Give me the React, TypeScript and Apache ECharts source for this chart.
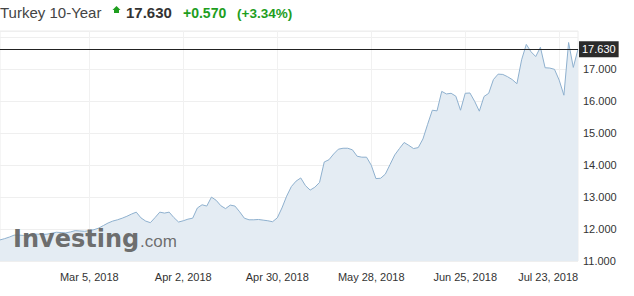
import React, { useEffect, useRef } from "react";
import * as echarts from "echarts";

const startDate = "2018-02-06";
const pointCount = 124;
const labelDates = ["Mar 5, 2018", "Apr 2, 2018", "Apr 30, 2018", "May 28, 2018", "Jun 25, 2018", "Jul 23, 2018"];
const yields = [
  11.66, 11.70, 11.75, 11.81, 11.81, 11.80, 11.82, 11.84, 11.84, 11.83,
  11.84, 11.87, 11.90, 11.89, 11.88, 11.91, 11.95, 11.94, 11.93, 11.95,
  11.98, 12.03, 12.11, 12.19, 12.25, 12.29, 12.34, 12.40, 12.47, 12.53,
  12.35, 12.25, 12.20, 12.36, 12.53, 12.50, 12.53, 12.36, 12.22, 12.26,
  12.31, 12.34, 12.66, 12.76, 12.72, 13.00, 12.90, 12.73, 12.64, 12.75,
  12.72, 12.54, 12.34, 12.29, 12.29, 12.30, 12.28, 12.26, 12.23, 12.35,
  12.66, 13.03, 13.33, 13.50, 13.60, 13.36, 13.22, 13.31, 13.46, 14.10,
  14.17, 14.35, 14.50, 14.53, 14.53, 14.48, 14.28, 14.25, 14.25, 14.00,
  13.58, 13.59, 13.72, 14.02, 14.32, 14.52, 14.71, 14.62, 14.52, 14.55,
  14.82, 15.28, 15.72, 15.70, 16.31, 16.23, 16.25, 16.16, 15.72, 16.25,
  16.26, 16.00, 15.69, 16.15, 16.25, 16.68, 16.85, 16.84, 16.77, 16.68,
  16.55, 17.30, 17.78, 17.55, 17.40, 17.69, 17.05, 17.04, 17.00, 16.66,
  16.19, 17.84, 17.06, 17.63,
];
const lastPrice = 17.63;
const yTicks = { min: 11, max: 18.2, step: 1 };

const MONTHS = ["Jan", "Feb", "Mar", "Apr", "May", "Jun", "Jul", "Aug", "Sep", "Oct", "Nov", "Dec"];

function buildDates(): string[] {
  const out: string[] = [];
  const d = new Date(startDate + "T12:00:00Z");
  while (out.length < pointCount) {
    const wd = d.getUTCDay();
    if (wd !== 0 && wd !== 6) {
      out.push(`${MONTHS[d.getUTCMonth()]} ${d.getUTCDate()}, ${d.getUTCFullYear()}`);
    }
    d.setUTCDate(d.getUTCDate() + 1);
  }
  return out;
}

const GREEN = "#1e9e1e";
const FONT = "Arial, 'Liberation Sans', sans-serif";

export default function App() {
  const ref = useRef<HTMLDivElement>(null);
  useEffect(() => {
    if (!ref.current) return;
    const chart = echarts.init(ref.current, undefined, { renderer: "svg" });
    const dates = buildDates();
    const showIdx = (i: number) => labelDates.includes(dates[i]);
    const lastLabel = labelDates[labelDates.length - 1];
    chart.setOption({
      animation: false,
      backgroundColor: "#ffffff",
      textStyle: { fontFamily: FONT },
      grid: { left: 0, right: 56, top: 31, bottom: 35, show: true, borderColor: "#ececec", borderWidth: 1 },
      xAxis: {
        type: "category",
        data: dates,
        boundaryGap: false,
        axisLine: { show: false },
        axisTick: { show: false },
        axisLabel: {
          interval: (i: number) => showIdx(i),
          color: "#333",
          fontSize: 11,
          fontFamily: FONT,
          margin: 10,
          formatter: (v: string) => (v === lastLabel ? `{s|${v}}` : v),
          rich: { s: { padding: [0, 22, 0, 0], color: "#333", fontSize: 11, fontFamily: FONT } },
        },
        splitLine: { show: true, interval: (i: number) => showIdx(i), lineStyle: { color: "#f1f1f1", width: 1 } },
      },
      yAxis: {
        type: "value",
        position: "right",
        min: yTicks.min,
        max: yTicks.max,
        interval: yTicks.step,
        axisLine: { show: false },
        axisTick: { show: false },
        axisLabel: {
          color: "#333",
          fontSize: 11,
          fontFamily: FONT,
          margin: 5,
          showMaxLabel: false,
          formatter: (v: number) => (v > 17.5 ? "" : v.toFixed(3)),
        },
        splitLine: { lineStyle: { color: "#efefef", width: 1 } },
      },
      series: [
        {
          type: "line",
          data: yields,
          symbol: "none",
          smooth: false,
          lineStyle: { color: "#8eb0ce", width: 1 },
          areaStyle: { color: "#e4ecf3", opacity: 1 },
          z: 2,
          markLine: {
            silent: true,
            symbol: ["none", "none"],
            lineStyle: { color: "#222", type: "solid", width: 1 },
            label: {
              position: "end",
              formatter: lastPrice.toFixed(3),
              backgroundColor: "#2b2b2b",
              color: "#fff",
              fontSize: 11,
              fontFamily: FONT,
              padding: [3, 3, 2, 3],
              distance: 1,
            },
            data: [{ yAxis: lastPrice }],
          },
        },
      ],
      graphic: [
        { type: "text", left: 0, top: 5, style: { text: "Turkey 10-Year", fill: "#444", font: `15px ${FONT}` } },
        {
          type: "polygon",
          shape: { points: [[116.5, 6], [120.5, 10], [119, 10], [119, 13], [114, 13], [114, 10], [112.5, 10]] },
          style: { fill: GREEN },
        },
        { type: "text", left: 126, top: 5, style: { text: "17.630", fill: "#333", font: `bold 15px ${FONT}` } },
        { type: "text", left: 183, top: 6, style: { text: "+0.570", fill: GREEN, font: `bold 14px ${FONT}` } },
        { type: "text", left: 237, top: 6, style: { text: "(+3.34%)", fill: GREEN, font: `bold 13.5px ${FONT}` } },
        {
          type: "text",
          x: 13,
          y: 239,
          z: 10,
          style: { text: "Investing", fill: "#666", opacity: 0.95, font: "bold 24px 'DejaVu Sans', sans-serif", verticalAlign: "middle", align: "left" },
        },
        {
          type: "text",
          x: 140,
          y: 241,
          z: 10,
          style: { text: ".com", fill: "#666", opacity: 0.95, font: `17px ${FONT}`, verticalAlign: "middle", align: "left" },
        },
      ],
    });
    return () => chart.dispose();
  }, []);
  return <div ref={ref} style={{ position: "fixed", left: 0, top: 0, width: 634, height: 296 }} />;
}
